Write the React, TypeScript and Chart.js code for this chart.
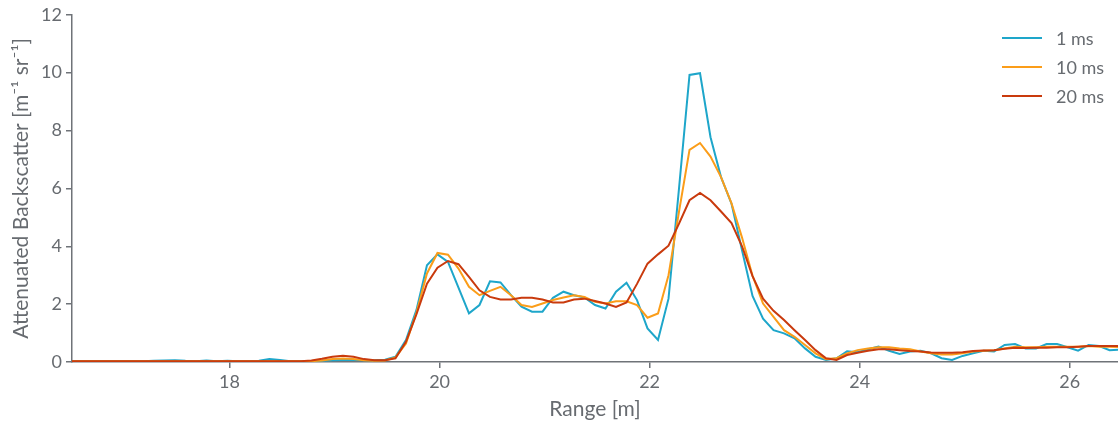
import React, { useEffect, useRef } from "react";
import { Chart, registerables } from "chart.js";

Chart.register(...registerables);

// Range [m] sample positions
const rangeM: number[] = [
  16.48, 16.58, 16.68, 16.78, 16.88, 16.98, 17.08, 17.18, 17.28, 17.38,
  17.48, 17.58, 17.68, 17.78, 17.88, 17.98, 18.08, 18.18, 18.28, 18.38,
  18.48, 18.58, 18.68, 18.78, 18.88, 18.98, 19.08, 19.18, 19.28, 19.38,
  19.48, 19.58, 19.68, 19.78, 19.88, 19.98, 20.08, 20.18, 20.28, 20.38,
  20.48, 20.58, 20.68, 20.78, 20.88, 20.98, 21.08, 21.18, 21.28, 21.38,
  21.48, 21.58, 21.68, 21.78, 21.88, 21.98, 22.08, 22.18, 22.28, 22.38,
  22.48, 22.58, 22.68, 22.78, 22.88, 22.98, 23.08, 23.18, 23.28, 23.38,
  23.48, 23.58, 23.68, 23.78, 23.88, 23.98, 24.08, 24.18, 24.28, 24.38,
  24.48, 24.58, 24.68, 24.78, 24.88, 24.98, 25.08, 25.18, 25.28, 25.38,
  25.48, 25.58, 25.68, 25.78, 25.88, 25.98, 26.08, 26.18, 26.28, 26.38,
  26.48,
];

const series1ms: number[] = [
  0.03, 0.03, 0.03, 0.03, 0.03, 0.03, 0.03, 0.03, 0.04, 0.05,
  0.06, 0.04, 0.03, 0.05, 0.03, 0.04, 0.03, 0.03, 0.04, 0.1,
  0.07, 0.03, 0.03, 0.03, 0.04, 0.06, 0.07, 0.07, 0.06, 0.06,
  0.08, 0.18, 0.76, 1.8, 3.34, 3.72, 3.46, 2.57, 1.68, 1.97,
  2.79, 2.75, 2.31, 1.91, 1.74, 1.74, 2.22, 2.43, 2.31, 2.23,
  1.97, 1.85, 2.43, 2.74, 2.14, 1.16, 0.76, 2.19, 6.0, 9.92,
  9.98, 7.77, 6.39, 5.47, 3.86, 2.28, 1.5, 1.1, 0.99, 0.82,
  0.47, 0.18, 0.07, 0.13, 0.37, 0.34, 0.44, 0.53, 0.39, 0.28,
  0.36, 0.39, 0.3, 0.13, 0.07, 0.21, 0.3, 0.39, 0.36, 0.59,
  0.62, 0.47, 0.47, 0.62, 0.62, 0.51, 0.39, 0.59, 0.55, 0.41,
  0.43,
];

const series10ms: number[] = [
  0.03, 0.03, 0.03, 0.03, 0.03, 0.03, 0.03, 0.03, 0.03, 0.03,
  0.03, 0.03, 0.03, 0.03, 0.03, 0.03, 0.03, 0.03, 0.03, 0.03,
  0.03, 0.03, 0.03, 0.03, 0.05, 0.1, 0.12, 0.1, 0.06, 0.04,
  0.05, 0.16, 0.64, 1.7, 3.06, 3.77, 3.71, 3.23, 2.6, 2.31,
  2.46, 2.6, 2.31, 1.97, 1.9, 2.02, 2.14, 2.23, 2.31, 2.25,
  2.08, 2.02, 2.1, 2.1, 1.97, 1.53, 1.68, 3.0, 5.2, 7.33,
  7.57, 7.1, 6.39, 5.48, 4.3, 2.98, 2.02, 1.56, 1.1, 0.87,
  0.59, 0.3, 0.1, 0.13, 0.3, 0.41, 0.47, 0.51, 0.51, 0.47,
  0.44, 0.36, 0.3, 0.26, 0.26, 0.3, 0.36, 0.39, 0.41, 0.47,
  0.53, 0.51, 0.51, 0.53, 0.53, 0.53, 0.53, 0.55, 0.53, 0.53,
  0.52,
];

const series20ms: number[] = [
  0.03, 0.03, 0.03, 0.03, 0.03, 0.03, 0.03, 0.03, 0.03, 0.03,
  0.03, 0.03, 0.03, 0.03, 0.03, 0.03, 0.03, 0.03, 0.03, 0.03,
  0.03, 0.03, 0.03, 0.05, 0.11, 0.18, 0.22, 0.18, 0.1, 0.06,
  0.06, 0.13, 0.7, 1.65, 2.71, 3.26, 3.49, 3.38, 2.94, 2.48,
  2.25, 2.16, 2.16, 2.22, 2.22, 2.16, 2.06, 2.06, 2.16, 2.19,
  2.11, 2.02, 1.9, 2.06, 2.7, 3.4, 3.72, 4.02, 4.78, 5.59,
  5.84, 5.59, 5.2, 4.8, 4.0, 2.97, 2.19, 1.77, 1.45, 1.1,
  0.76, 0.41, 0.13, 0.07, 0.24, 0.32, 0.39, 0.44, 0.44, 0.41,
  0.38, 0.36, 0.33, 0.32, 0.32, 0.34, 0.38, 0.4, 0.41, 0.46,
  0.49, 0.48, 0.49, 0.49, 0.51, 0.51, 0.53, 0.55, 0.55, 0.55,
  0.55,
];

const seriesLabels: string[] = ["1 ms", "10 ms", "20 ms"];
const seriesColors: string[] = ["#1ea6ca", "#fb9d19", "#c93a0d"];
const xTickValues: number[] = [18, 20, 22, 24, 26];
const yTickValues: number[] = [0, 2, 4, 6, 8, 10, 12];

const FONT = "Lato, 'Open Sans', sans-serif";
const TEXT = "#676b70";
const AXIS = "#6f7378";

const legendPlugin = {
  id: "insideLegend",
  afterDraw(chart: any) {
    const ctx = chart.ctx;
    ctx.save();
    ctx.font = `18px ${FONT}`;
    ctx.textBaseline = "middle";
    ctx.textAlign = "left";
    const rows = [38, 67, 96];
    chart.data.datasets.forEach((ds: any, i: number) => {
      const y = rows[i];
      ctx.strokeStyle = ds.borderColor;
      ctx.lineWidth = 2;
      ctx.beginPath();
      ctx.moveTo(1002, y);
      ctx.lineTo(1042, y);
      ctx.stroke();
      ctx.fillStyle = TEXT;
      ctx.fillText(ds.label, 1056, y + 1);
    });
    ctx.restore();
  },
};

export default function App() {
  const canvasRef = useRef<HTMLCanvasElement | null>(null);

  useEffect(() => {
    document.body.style.margin = "0";
    const canvas = canvasRef.current;
    if (!canvas) return;
    const allSeries = [series1ms, series10ms, series20ms];
    const chart = new Chart(canvas, {
      type: "line",
      data: {
        datasets: allSeries.map((s, i) => ({
          label: seriesLabels[i],
          data: rangeM.map((x, j) => ({ x, y: s[j] })),
          borderColor: seriesColors[i],
          backgroundColor: seriesColors[i],
          borderWidth: 2,
          pointRadius: 0,
          tension: 0,
          fill: false,
          order: 2 - i,
        })),
      },
      options: {
        animation: false,
        responsive: false,
        maintainAspectRatio: false,
        layout: { padding: { top: 13, left: 0, right: 0, bottom: 0 } },
        plugins: {
          legend: { display: false },
          tooltip: { enabled: false },
        },
        scales: {
          x: {
            type: "linear",
            min: 16.5,
            max: 26.46,
            afterBuildTicks: (scale: any) => {
              scale.ticks = xTickValues.map((v) => ({ value: v }));
            },
            afterFit: (scale: any) => {
              scale.height = 60;
            },
            grid: {
              drawOnChartArea: false,
              drawTicks: true,
              tickLength: 6,
              color: AXIS,
              lineWidth: 1.5,
            },
            border: { display: true, color: AXIS, width: 1.5 },
            ticks: {
              color: TEXT,
              font: { family: FONT, size: 18 },
              padding: 3,
              maxRotation: 0,
            },
            title: {
              display: true,
              text: "Range [m]",
              color: TEXT,
              font: { family: FONT, size: 21 },
              padding: { top: 0, bottom: 0 },
            },
          },
          y: {
            type: "linear",
            min: 0,
            max: 12,
            afterBuildTicks: (scale: any) => {
              scale.ticks = yTickValues.map((v) => ({ value: v }));
            },
            afterFit: (scale: any) => {
              scale.width = 72;
            },
            grid: {
              drawOnChartArea: false,
              drawTicks: true,
              tickLength: 6,
              color: AXIS,
              lineWidth: 1.5,
            },
            border: { display: true, color: AXIS, width: 1.5 },
            ticks: {
              color: TEXT,
              font: { family: FONT, size: 18 },
              padding: 4,
            },
            title: {
              display: true,
              text: "Attenuated Backscatter [m\u207B\u00B9 sr\u207B\u00B9]",
              color: TEXT,
              font: { family: FONT, size: 21 },
              padding: { top: 9, bottom: 0 },
            },
          },
        },
      },
      plugins: [legendPlugin],
    });
    return () => chart.destroy();
  }, []);

  return (
    <div style={{ width: 1118, height: 422, position: "relative" }}>
      <canvas ref={canvasRef} width={1118} height={422} style={{ display: "block" }} />
    </div>
  );
}
